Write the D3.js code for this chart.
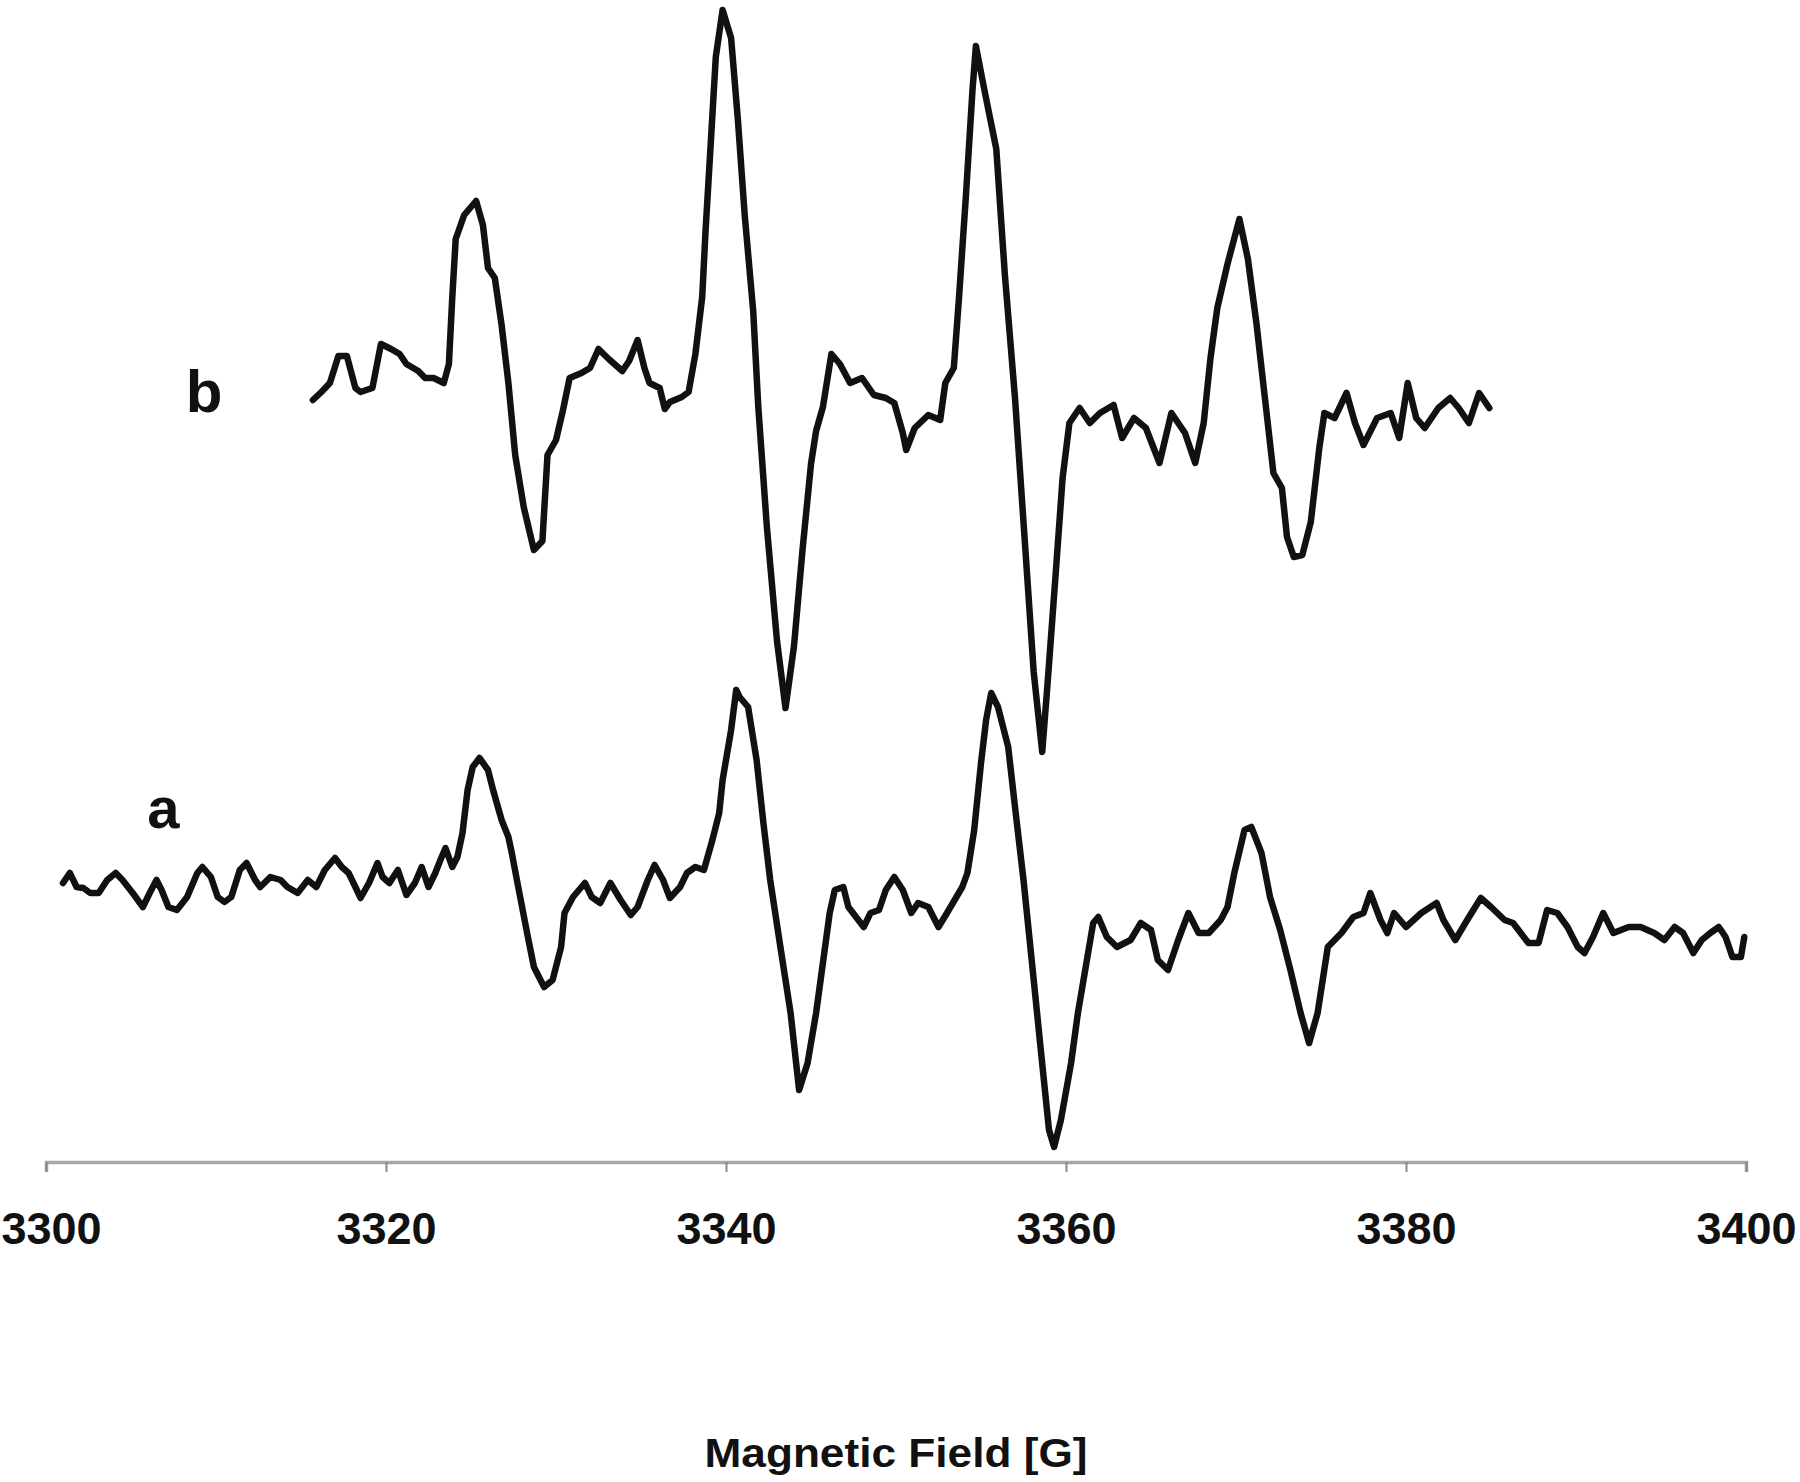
<!DOCTYPE html>
<html>
  <head>
    <meta charset="utf-8">
    <script type="text/javascript" src="https://d3js.org/d3.v7.min.js"></script>
    <style>
      body { margin: 0; background: #fff; }
      .axis text { font-family: "Liberation Sans", Arial, sans-serif; font-weight: bold; font-size: 45px; fill: #111; }
      .axis path { stroke: #a8a8a8; stroke-width: 3.5px; }
      .axis line { stroke: #888; stroke-width: 2px; }
      .lbl { font-family: "Liberation Sans", Arial, sans-serif; font-weight: bold; fill: #111; }
    </style>
  </head>
  <body>
    <div id="my_chart"></div>
    <script type="text/javascript">
      // spectrum a (lower trace), field in G, signal in arbitrary units
      var fieldA = [3301.0,3301.4,3301.8,3302.2,3302.6,3303.1,3303.6,3304.1,3304.5,3305.1,3305.7,3306.1,3306.5,3306.8,3307.2,3307.7,3308.3,3308.9,3309.2,3309.7,
        3310.1,3310.5,3310.9,3311.4,3311.8,3312.3,3312.6,3313.2,3313.8,3314.2,3314.8,3315.4,3315.9,3316.4,3317.0,3317.4,3317.8,3318.2,3318.5,3319.0,
        3319.5,3319.8,3320.2,3320.7,3321.2,3321.7,3322.1,3322.5,3322.9,3323.2,3323.5,3323.9,3324.2,3324.5,3324.8,3325.1,3325.5,3326.0,3326.3,3326.8,
        3327.2,3327.4,3327.7,3328.3,3328.7,3329.3,3329.8,3330.3,3330.5,3331.0,3331.7,3332.1,3332.6,3333.2,3333.8,3334.4,3334.8,3335.4,3335.8,3336.3,
        3336.7,3337.3,3337.7,3338.2,3338.7,3339.2,3339.6,3339.8,3340.3,3340.6,3340.8,3341.3,3341.8,3342.2,3342.6,3343.2,3343.8,3344.3,3344.8,3345.3,
        3345.7,3346.1,3346.4,3346.9,3347.2,3348.1,3348.5,3349.0,3349.4,3349.9,3350.4,3350.9,3351.3,3351.9,3352.5,3353.0,3353.9,3354.2,3354.6,3355.0,
        3355.3,3355.6,3356.0,3356.6,3357.0,3357.5,3358.0,3358.5,3359.0,3359.3,3359.7,3360.3,3360.7,3361.2,3361.6,3361.9,3362.4,3363.0,3363.8,3364.4,
        3365.0,3365.4,3366.0,3366.6,3367.2,3367.8,3368.4,3369.1,3369.5,3369.9,3370.5,3370.9,3371.5,3372.0,3372.6,3373.2,3373.8,3374.3,3374.8,3375.4,
        3376.2,3376.9,3377.5,3377.9,3378.5,3378.9,3379.3,3380.0,3380.9,3381.8,3382.2,3382.9,3383.6,3384.4,3385.0,3385.8,3386.3,3387.2,3387.8,3388.3,
        3388.9,3389.5,3390.1,3390.5,3391.0,3391.6,3392.2,3393.1,3393.8,3394.6,3395.2,3395.8,3396.3,3396.9,3397.4,3397.9,3398.4,3398.8,3399.2,3399.7,3399.9];
      var signalA = [0.7,1.7,0.3,0.2,-0.3,-0.3,1.0,1.7,1.0,-0.3,-1.7,-0.3,1.0,0,-1.7,-2.0,-0.7,1.7,2.3,1.3,
        -0.7,-1.2,-0.7,2.0,2.7,1.0,0.3,1.3,1.0,0.3,-0.3,1.0,0.3,2.0,3.2,2.3,1.7,0.3,-0.8,0.7,
        2.7,1.3,0.7,2.0,-0.5,0.7,2.3,0.3,1.7,3.0,4.2,2.3,3.3,5.7,10.0,12.3,13.2,12.0,10.0,7.0,
        5.3,3.7,1.0,-4.3,-7.7,-9.7,-9.0,-5.7,-2.3,-0.7,0.7,-0.7,-1.3,0.7,-1.0,-2.5,-1.7,1.0,2.5,1.0,
        -0.8,0.3,1.7,2.3,2.0,5.0,7.7,11.0,16.0,20.0,19.3,18.3,13.0,6.7,1.0,-5.7,-12.3,-20.0,-17.3,-12.3,
        -7.3,-2.3,0,0.3,-1.7,-3.7,-2.3,-2.0,0,1.3,0,-2.3,-1.3,-1.7,-3.7,-2.3,0.3,1.7,6.0,12.7,
        17.0,19.7,18.3,14.3,8.3,1.0,-7.3,-15.7,-24.0,-25.7,-23.0,-17.3,-12.3,-7.3,-3.3,-2.7,-4.7,-5.7,-5.0,-3.3,
        -4.0,-7.0,-8.0,-5.0,-2.3,-4.3,-4.3,-3.0,-1.7,1.7,6.0,6.3,3.7,-0.7,-4.0,-8.0,-12.3,-15.3,-12.3,-5.7,
        -4.3,-2.7,-2.3,-0.3,-3.0,-4.3,-2.3,-3.7,-2.3,-1.3,-3.0,-5.0,-3.0,-0.8,-1.7,-3.0,-3.3,-5.3,-5.3,-2.0,
        -2.3,-3.7,-5.7,-6.3,-4.7,-2.3,-4.3,-3.7,-3.7,-4.3,-5.0,-3.7,-4.3,-6.3,-5.0,-4.3,-3.7,-4.7,-6.7,-6.7,-4.7];

      // spectrum b (upper trace)
      var fieldB = [3315.7,3316.2,3316.7,3317.2,3317.7,3318.2,3318.5,3319.2,3319.7,3320.3,3320.8,3321.2,3321.9,3322.3,3322.8,3323.4,3323.7,3323.9,3324.1,3324.6,
        3325.3,3325.7,3326.0,3326.4,3326.8,3327.2,3327.6,3328.1,3328.7,3329.2,3329.5,3330.0,3330.4,3330.8,3331.5,3332.0,3332.5,3333.1,3333.9,3334.3,
        3334.8,3335.2,3335.5,3336.1,3336.4,3336.7,3337.4,3337.8,3338.2,3338.6,3338.8,3339.1,3339.4,3339.8,3340.3,3340.7,3341.1,3341.6,3341.9,3342.4,
        3343.0,3343.5,3344.0,3344.5,3345.0,3345.3,3345.7,3346.2,3346.7,3347.3,3348.0,3348.7,3349.4,3349.9,3350.4,3350.6,3351.1,3351.9,3352.6,3352.9,
        3353.4,3353.7,3354.1,3354.5,3354.7,3355.2,3355.9,3356.4,3357.0,3357.6,3358.1,3358.6,3358.9,3359.4,3359.8,3360.2,3360.8,3361.4,3362.0,3362.8,
        3363.3,3364.0,3364.7,3365.5,3366.2,3367.0,3367.6,3368.1,3368.5,3368.9,3369.5,3370.2,3370.7,3371.2,3371.7,3372.2,3372.7,3373.0,3373.4,3373.9,
        3374.4,3374.9,3375.2,3375.8,3376.5,3377.0,3377.5,3378.3,3379.1,3379.6,3380.1,3380.6,3381.1,3381.9,3382.6,3383.1,3383.7,3384.3,3384.9];
      var signalB = [-1.0,-0.2,0.7,3.4,3.4,0.2,-0.2,0.2,4.6,4.1,3.6,2.6,1.9,1.2,1.2,0.7,2.6,9.3,15.1,17.5,
        18.9,16.5,12.2,11.2,6.5,0.7,-6.5,-11.7,-16.0,-15.1,-6.5,-5.0,-2.1,1.2,1.7,2.2,4.1,3.1,1.9,2.9,
        5.0,2.2,0.7,0.2,-1.9,-1.2,-0.7,-0.2,3.6,9.3,16.0,24.6,33.3,38.0,35.2,27.0,17.5,7.9,-1.7,-13.6,
        -25.1,-31.8,-25.6,-16.0,-7.4,-4.1,-1.7,3.6,2.6,0.7,1.2,-0.5,-0.8,-1.3,-4.3,-6.0,-3.8,-2.5,-3.0,0.7,
        2.2,9.1,19.1,30.0,34.4,30.0,24.1,11.6,-0.8,-15.7,-28.2,-36.2,-29.7,-18.2,-8.8,-3.3,-1.8,-3.3,-2.3,-1.5,
        -4.8,-2.8,-3.8,-7.3,-2.3,-4.3,-7.3,-3.3,3.2,8.2,12.6,17.1,13.1,6.7,-0.8,-8.3,-9.8,-14.7,-16.7,-16.5,
        -13.2,-5.8,-2.3,-2.8,-0.3,-3.3,-5.5,-2.8,-2.3,-4.8,0.7,-2.8,-3.8,-1.8,-0.8,-1.8,-3.3,-0.3,-1.8];

      var offsetB = 50;   // vertical shift of trace b
      var tickValues = [3300, 3320, 3340, 3360, 3380, 3400];
      var labels = [
        {text: "a", field: 3306.9, value: 6.2, size: 58},
        {text: "b", field: 3309.3, value: 47.8, size: 60}
      ];

      var width = 1800, height = 1482;

      var svg = d3.select("#my_chart")
        .append("svg")
          .attr("width", width)
          .attr("height", height);

      var x = d3.scaleLinear().domain([3300, 3400]).range([46, 1746]);
      var y = d3.scaleLinear().domain([-27.2, 89]).range([1162, 0]);

      // x axis
      var xAxis = svg.append("g")
        .attr("class", "axis")
        .attr("transform", "translate(0," + y(-27.2) + ")")
        .call(d3.axisBottom(x).tickValues(tickValues).tickFormat(d3.format("d"))
          .tickSizeInner(10).tickSizeOuter(10).tickPadding(40));

      // keep the first label inside the page
      xAxis.selectAll(".tick text")
        .filter(function(d) { return d === 3300; })
        .attr("text-anchor", "start")
        .attr("x", 1 - x(3300));

      var line = d3.line()
        .x(function(d) { return x(d[0]); })
        .y(function(d) { return y(d[1]); });

      var dataA = fieldA.map(function(f, i) { return [f, signalA[i]]; });
      var dataB = fieldB.map(function(f, i) { return [f, signalB[i] + offsetB]; });

      svg.selectAll("path.trace")
        .data([dataA, dataB])
        .enter().append("path")
          .attr("class", "trace")
          .attr("d", line)
          .attr("fill", "none")
          .attr("stroke", "#111")
          .attr("stroke-width", 6.5)
          .attr("stroke-linejoin", "round")
          .attr("stroke-linecap", "round");

      svg.selectAll("text.lbl")
        .data(labels)
        .enter().append("text")
          .attr("class", "lbl")
          .attr("x", function(d) { return x(d.field); })
          .attr("y", function(d) { return y(d.value); })
          .attr("text-anchor", "middle")
          .attr("font-size", function(d) { return d.size + "px"; })
          .text(function(d) { return d.text; });

      // axis title
      svg.append("text")
        .attr("class", "lbl")
        .attr("x", 896)
        .attr("y", 1467)
        .attr("text-anchor", "middle")
        .attr("font-size", "40px")
        .attr("textLength", 383)
        .attr("lengthAdjust", "spacingAndGlyphs")
        .text("Magnetic Field [G]");
    </script>
  </body>
</html>
